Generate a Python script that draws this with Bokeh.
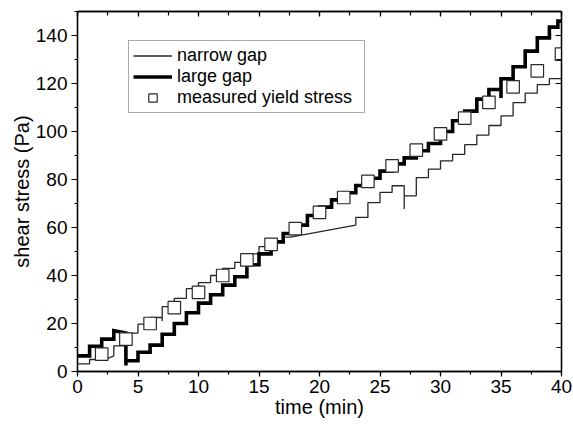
from bokeh.plotting import figure
from bokeh.models import (LinearAxis, SingleIntervalTicker, Range1d, Legend,
                          LegendItem, CustomLabelingPolicy)
from bokeh.embed import file_html
from bokeh.resources import INLINE

# ---- data ----
# narrow gap (thin line): polyline vertices (time in min, shear stress in Pa)
narrow_t = [0, 1, 1, 2.3, 3, 3, 4, 4, 5, 5, 6, 6, 7, 7, 7, 8, 8, 9, 9, 10, 10,
            11, 11, 12, 12, 13, 13, 14, 14, 15, 15, 16, 16, 17, 17, 17.6, 23,
            23, 24, 24, 25, 25, 26, 26, 27, 27, 27, 28, 28, 29, 29, 30, 30, 31,
            31, 32, 32, 33, 33, 34, 34, 35, 35, 36, 36, 37, 37, 38, 38, 39, 39, 40]
narrow_s = [3.2, 3.2, 5, 5, 6.5, 10.7, 10.7, 16, 16, 19.7, 19.7, 22.5, 22.5, 21,
            27, 27, 30.5, 30.5, 34.5, 34.5, 37, 37, 40, 40, 43, 43, 45.5, 45.5,
            49, 49, 52, 52, 54, 54, 56, 56, 61, 64.2, 64.2, 70.4, 70.4, 74.6,
            74.6, 77.4, 77.4, 67.7, 73.2, 73.2, 80.8, 80.8, 84.3, 84.3, 87.8,
            87.8, 90.5, 90.5, 94.5, 94.5, 98.5, 98.5, 102.5, 102.5, 106.5, 106.5,
            112, 112, 116, 116, 119.5, 119.5, 122, 122]

# large gap (thick line): polyline vertices
large_t = [0, 1, 1, 2, 2, 3, 3, 4, 4, 4, 5, 5, 6, 6, 7, 7, 8, 8, 9, 9, 10, 10,
           11, 11, 12, 12, 13, 13, 14, 14, 15, 15, 16, 16, 17, 17, 18, 18, 19,
           19, 20, 20, 21, 21, 22, 22, 23, 23, 24, 24, 25, 25, 26, 26, 27, 27,
           28, 28, 29, 29, 30, 30, 31, 31, 32, 32, 33, 33, 34, 34, 35, 35, 35,
           36, 36, 37, 37, 38, 38, 39, 39, 39.7, 39.7, 40]
large_s = [6.5, 6.5, 10.5, 10.5, 13.5, 13.5, 17, 16, 2.5, 4.5, 4.5, 8, 8, 11,
           11, 15.5, 15.5, 20, 20, 24.5, 24.5, 28.5, 28.5, 32, 32, 36, 36, 39.5,
           39.5, 44.5, 44.5, 49, 49, 54, 54, 57.5, 57.5, 61, 61, 65, 65, 68.5,
           68.5, 71.5, 71.5, 74.5, 74.5, 77.5, 77.5, 80.5, 80.5, 83.5, 83.5,
           86.5, 86.5, 89, 89, 92, 92, 95, 95, 100, 100, 104.5, 104.5, 108.5,
           108.5, 113.5, 113.5, 117.5, 117.5, 114, 122, 122, 127, 127, 133.5,
           133.5, 139, 139, 143.5, 143.5, 146, 146]

# measured yield stress (open squares)
yield_t = [2, 4, 6, 8, 10, 12, 14, 16, 18, 20, 22, 24, 26, 28, 30, 32, 34, 36, 38, 40]
yield_s = [7.2, 13.5, 20, 26.6, 33, 40, 46.5, 53, 59.5, 66.3, 72.5, 79.2, 85.7,
           92.2, 99, 105.6, 112.1, 118.6, 125.3, 132.2]

x_ticks_interval = 5
y_ticks_interval = 20

FONT = "Liberation Sans"

p = figure(width=573, height=427, x_range=Range1d(0, 40), y_range=Range1d(0, 150),
           output_backend="svg", toolbar_location=None,
           min_border_left=77, min_border_right=12, min_border_top=11,
           min_border_bottom=56)
p.grid.visible = False
p.outline_line_color = "black"
p.outline_line_width = 1.3
p.background_fill_color = "white"
p.border_fill_color = "white"

# bottom / left axes
p.xaxis.ticker = SingleIntervalTicker(interval=x_ticks_interval, num_minor_ticks=2)
p.yaxis.ticker = SingleIntervalTicker(interval=y_ticks_interval, num_minor_ticks=2)
for ax in (p.xaxis[0], p.yaxis[0]):
    ax.axis_line_width = 1.3
    ax.major_tick_line_width = 1.2
    ax.minor_tick_line_width = 1.2
    ax.major_tick_in = 0
    ax.minor_tick_in = 0
    ax.major_label_text_font = FONT
    ax.major_label_text_font_size = "19px"
    ax.major_label_text_color = "black"
    ax.axis_label_text_font = FONT
    ax.axis_label_text_font_size = "20px"
    ax.axis_label_text_font_style = "normal"
    ax.axis_label_text_color = "black"
    ax.axis_label_standoff = 0
p.xaxis.axis_label = "time (min)"
p.yaxis.axis_label = "shear stress (Pa)"
p.xaxis.major_tick_out = 5
p.xaxis.minor_tick_out = 3
p.xaxis.major_label_standoff = 3
p.yaxis.major_tick_out = 6
p.yaxis.minor_tick_out = 3
p.yaxis.major_label_standoff = 4

# top / right axes: ticks only (no labels), pointing inward
def tick_only_axis(interval, major_in, minor_in):
    return LinearAxis(ticker=SingleIntervalTicker(interval=interval, num_minor_ticks=2),
                      major_tick_in=major_in, major_tick_out=0,
                      minor_tick_in=minor_in, minor_tick_out=0,
                      major_label_policy=CustomLabelingPolicy(code="return []"),
                      major_label_text_font_size="1px", major_label_standoff=0,
                      axis_line_width=1.3, major_tick_line_width=1.2,
                      minor_tick_line_width=1.2)

p.add_layout(tick_only_axis(x_ticks_interval, 5, 4), "above")
p.add_layout(tick_only_axis(y_ticks_interval, 6, 5), "right")

r_narrow = p.line(narrow_t, narrow_s, line_color="#262626", line_width=1.3)
r_large = p.line(large_t, large_s, line_color="black", line_width=3.6, line_join="miter")
r_yield = p.scatter(yield_t, yield_s, marker="square", size=12.5, fill_color="white",
                    line_color="#2a2a2a", line_width=1.2)

legend = Legend(items=[LegendItem(label="narrow gap", renderers=[r_narrow]),
                       LegendItem(label="large gap", renderers=[r_large]),
                       LegendItem(label="measured yield stress", renderers=[r_yield])],
                location=(51, 258), padding=4, spacing=0, margin=0,
                label_height=21, glyph_height=21, glyph_width=39, label_standoff=5,
                label_width=183,
                label_text_font=FONT, label_text_font_size="18px",
                label_text_color="black",
                border_line_color="#555555", border_line_width=1,
                background_fill_color="white", background_fill_alpha=1)
p.add_layout(legend, "center")

open("out.html", "w").write(file_html(p, INLINE))
